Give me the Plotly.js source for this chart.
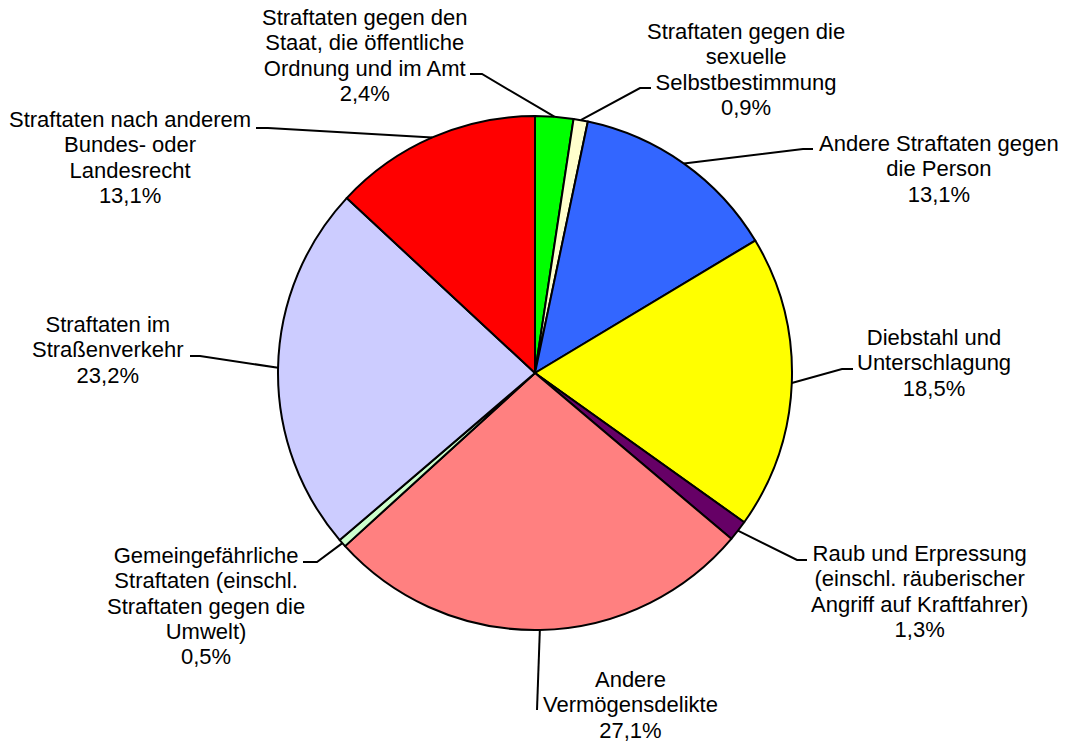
<!DOCTYPE html>
<html>
<head>
<meta charset="utf-8">
<script src="https://cdn.plot.ly/plotly-3.0.1.min.js"></script>
<style>html,body{margin:0;padding:0;background:#fff;}#chart{width:1065px;height:744px;}</style>
</head>
<body>
<div id="chart"></div>
<script>
// ---- data ----
var categories = [
  "Straftaten gegen den<br>Staat, die öffentliche<br>Ordnung und im Amt",
  "Straftaten gegen die<br>sexuelle<br>Selbstbestimmung",
  "Andere Straftaten gegen<br>die Person",
  "Diebstahl und<br>Unterschlagung",
  "Raub und Erpressung<br>(einschl. räuberischer<br>Angriff auf Kraftfahrer)",
  "Andere<br>Vermögensdelikte",
  "Gemeingefährliche<br>Straftaten (einschl.<br>Straftaten gegen die<br>Umwelt)",
  "Straftaten im<br>Straßenverkehr",
  "Straftaten nach anderem<br>Bundes- oder<br>Landesrecht"
];
var shares = [2.4, 0.9, 13.1, 18.5, 1.3, 27.1, 0.5, 23.2, 13.1];
var shareLabels = ["2,4%", "0,9%", "13,1%", "18,5%", "1,3%", "27,1%", "0,5%", "23,2%", "13,1%"];

// ---- styles / layout ----
var colors = ["#00FF00", "#FFFFCC", "#3366FF", "#FFFF00", "#660066", "#FF8080", "#CCFFCC", "#CCCCFF", "#FF0000"];
var W = 1065, H = 744;
var CX = 535, CY = 373, R = 257;
// label block centres (px)
var labelPos = [[365, 55], [746, 69.5], [939, 169], [934, 363], [919, 591], [630, 705], [206, 606], [108, 350], [130, 157.5]];
// leader elbows and ends (px)
var leaderElbow = [[482, 74], [640, 88], [803, 149], [842, 369], [797, 560], [537, 710], [317, 562], [200, 356], [268, 128]];
var leaderEnd = [[470, 74], [651, 88], [813, 149], [853, 369], [807, 560], [537, 710], [303, 562], [190, 356], [256, 128]];

function px(x) { return x / W; }
function py(y) { return 1 - y / H; }

var total = shares.reduce(function (a, b) { return a + b; }, 0);
var annotations = [], shapes = [];
var cum = 0;
for (var i = 0; i < shares.length; i++) {
  var mid = (cum + shares[i] / 2) / total * 2 * Math.PI;
  cum += shares[i];
  var ex = CX + R * Math.sin(mid), ey = CY - R * Math.cos(mid);
  shapes.push({
    type: "path", xref: "paper", yref: "paper",
    path: "M" + px(ex) + "," + py(ey) + " L" + px(leaderElbow[i][0]) + "," + py(leaderElbow[i][1]) +
          " L" + px(leaderEnd[i][0]) + "," + py(leaderEnd[i][1]),
    line: { color: "#000", width: 2 }
  });
  annotations.push({
    xref: "paper", yref: "paper",
    x: px(labelPos[i][0]), y: py(labelPos[i][1]),
    xanchor: "center", yanchor: "middle", align: "center",
    showarrow: false,
    text: '<span style="font-size:22px">' + categories[i] + "<br>" + shareLabels[i] + "</span>",
    font: { family: "Arial, 'Liberation Sans', sans-serif", size: 19.5, color: "#000" }
  });
}

var trace = {
  type: "pie",
  values: shares,
  labels: categories,
  sort: false,
  direction: "clockwise",
  rotation: 0,
  textinfo: "none",
  hoverinfo: "skip",
  marker: { colors: colors, line: { color: "#000", width: 2 } },
  domain: { x: [px(CX - R), px(CX + R)], y: [py(CY + R), py(CY - R)] },
  showlegend: false
};

Plotly.newPlot("chart", [trace], {
  width: W, height: H,
  margin: { l: 0, r: 0, t: 0, b: 0 },
  paper_bgcolor: "#fff",
  showlegend: false,
  annotations: annotations,
  shapes: shapes
}, { staticPlot: true });
</script>
</body>
</html>
